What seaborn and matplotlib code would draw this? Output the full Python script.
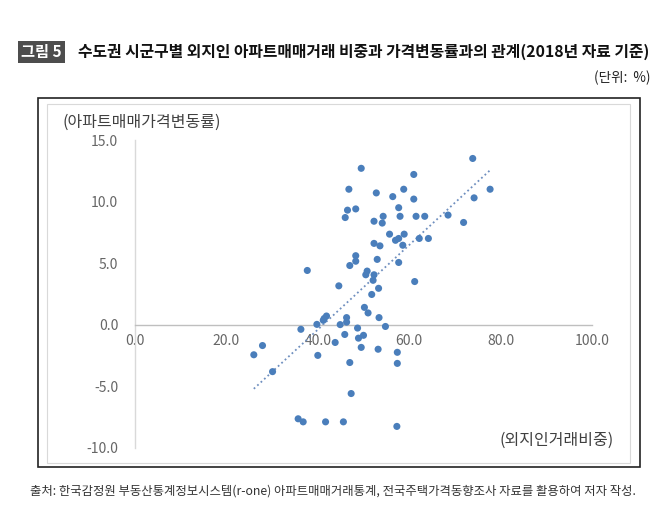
import numpy as np
import pandas as pd
import seaborn as sns
import matplotlib
matplotlib.use("Agg")
import matplotlib.pyplot as plt
from matplotlib.patches import Rectangle

# 외지인 거래비중 (x), 아파트매매가격변동률 (y)
share = [73.9, 49.5, 61.0, 46.8, 58.8, 77.7, 52.8, 56.4, 74.2, 61.0,
         46.5, 48.3, 57.7, 46.0, 54.3, 58.0, 61.5, 63.4, 68.5, 52.3,
         54.1, 71.9, 55.7, 58.9, 57.0, 57.7, 62.2, 64.2, 52.3, 53.6,
         58.6, 48.3, 47.0, 48.3, 53.0, 57.7, 37.7, 50.8, 50.5, 52.3,
         52.1, 61.2, 44.6, 53.3, 51.8, 50.2, 51.0, 53.4, 46.3, 41.9,
         41.4, 41.2, 39.8, 44.9, 46.3, 54.8, 36.3, 48.7, 45.9, 50.0,
         48.9, 43.8, 27.9, 49.5, 53.2, 57.4, 26.0, 40.0, 47.0, 57.4,
         30.1, 47.3, 35.7, 36.8, 41.7, 45.6, 57.3]
change = [13.5, 12.7, 12.2, 11.0, 11.0, 11.0, 10.7, 10.4, 10.3, 10.2,
          9.3, 9.4, 9.5, 8.7, 8.8, 8.8, 8.8, 8.8, 8.9, 8.4,
          8.25, 8.3, 7.35, 7.35, 6.85, 7.0, 7.0, 7.0, 6.6, 6.4,
          6.45, 5.6, 4.8, 5.15, 5.3, 5.05, 4.4, 4.35, 4.05, 4.05,
          3.6, 3.5, 3.15, 2.95, 2.45, 1.4, 0.95, 0.57, 0.57, 0.7,
          0.5, 0.35, 0.02, 0.0, 0.2, -0.15, -0.38, -0.28, -0.8, -0.87,
          -1.1, -1.45, -1.7, -1.85, -2.0, -2.25, -2.45, -2.5, -3.08, -3.15,
          -3.82, -5.6, -7.65, -7.9, -7.9, -7.9, -8.27]

xticks = [0, 20, 40, 60, 80, 100]
yticks = [-10, -5, 0, 5, 10, 15]

sns.set_style("white")
plt.rcParams['font.family'] = ['Noto Sans CJK KR', 'DejaVu Sans']

data = pd.DataFrame({"share": share, "change": change})

W, H = 670, 522
fig = plt.figure(figsize=(W / 100, H / 100), dpi=100)

def fx(px):
    return px / W

def fy(py):
    return 1 - py / H

# outer frame and inner chart border
fig.patches.append(Rectangle((fx(38), fy(467)), fx(640) - fx(38), fy(98) - fy(467),
                             transform=fig.transFigure, fill=False, edgecolor="#222222", lw=1.2))
fig.patches.append(Rectangle((fx(47), fy(463)), fx(630) - fx(47), fy(104) - fy(463),
                             transform=fig.transFigure, fill=False, edgecolor="#d9d9d9", lw=0.8))

ax = fig.add_axes([fx(135), fy(447.7), fx(592) - fx(135), fy(140) - fy(447.7)])
ax.set_facecolor("none")

sns.scatterplot(data=data, x="share", y="change", ax=ax, color="#4a7ebb",
                s=26, edgecolor="none", zorder=3)
sns.regplot(data=data, x="share", y="change", ax=ax, scatter=False, ci=None,
            color="#6f8fbf", line_kws={"lw": 1.3, "ls": (0, (1, 1.6))})

ax.set_xlim(0, 100)
ax.set_ylim(-10, 15)
ax.set_xticks(xticks)
ax.set_yticks(yticks)
ax.set_xticklabels([f"{v:.1f}" for v in xticks])
ax.set_yticklabels([f"{v:.1f}" for v in yticks])
ax.set_xlabel("")
ax.set_ylabel("")
ax.tick_params(length=0, labelsize=10, labelcolor="#666666")
ax.tick_params(axis="x", pad=7)
ax.tick_params(axis="y", pad=12)

for s in ["top", "right"]:
    ax.spines[s].set_visible(False)
ax.spines["left"].set_color("#d9d9d9")
ax.spines["left"].set_linewidth(1.0)
ax.spines["bottom"].set_position(("data", 0))
ax.spines["bottom"].set_color("#bfbfbf")
ax.spines["bottom"].set_linewidth(1.0)

# axis titles inside the chart
fig.text(fx(63), fy(122), "(아파트매매가격변동률)", fontsize=11.5, color="#404040",
         ha="left", va="center")
fig.text(fx(614), fy(440), "(외지인거래비중)", fontsize=11.5, color="#404040",
         ha="right", va="center")

# header
fig.text(fx(21), fy(52), "그림 5", fontsize=11, color="white", fontweight="bold",
         ha="left", va="center",
         bbox=dict(boxstyle="square,pad=0.22", fc="#4d4d4d", ec="none"))
fig.text(fx(78), fy(52), "수도권 시군구별 외지인 아파트매매거래 비중과 가격변동률과의 관계(2018년 자료 기준)",
         fontsize=11.4, color="#111111", fontweight="bold", ha="left", va="center")
fig.text(fx(650), fy(78), "(단위:  %)", fontsize=9.8, color="#222222", ha="right", va="center")

fig.text(fx(30), fy(491), "출처: 한국감정원 부동산통계정보시스템(r-one) 아파트매매거래통계, 전국주택가격동향조사 자료를 활용하여 저자 작성.",
         fontsize=8.9, color="#333333", ha="left", va="center")

fig.savefig("out.png", dpi=100)
